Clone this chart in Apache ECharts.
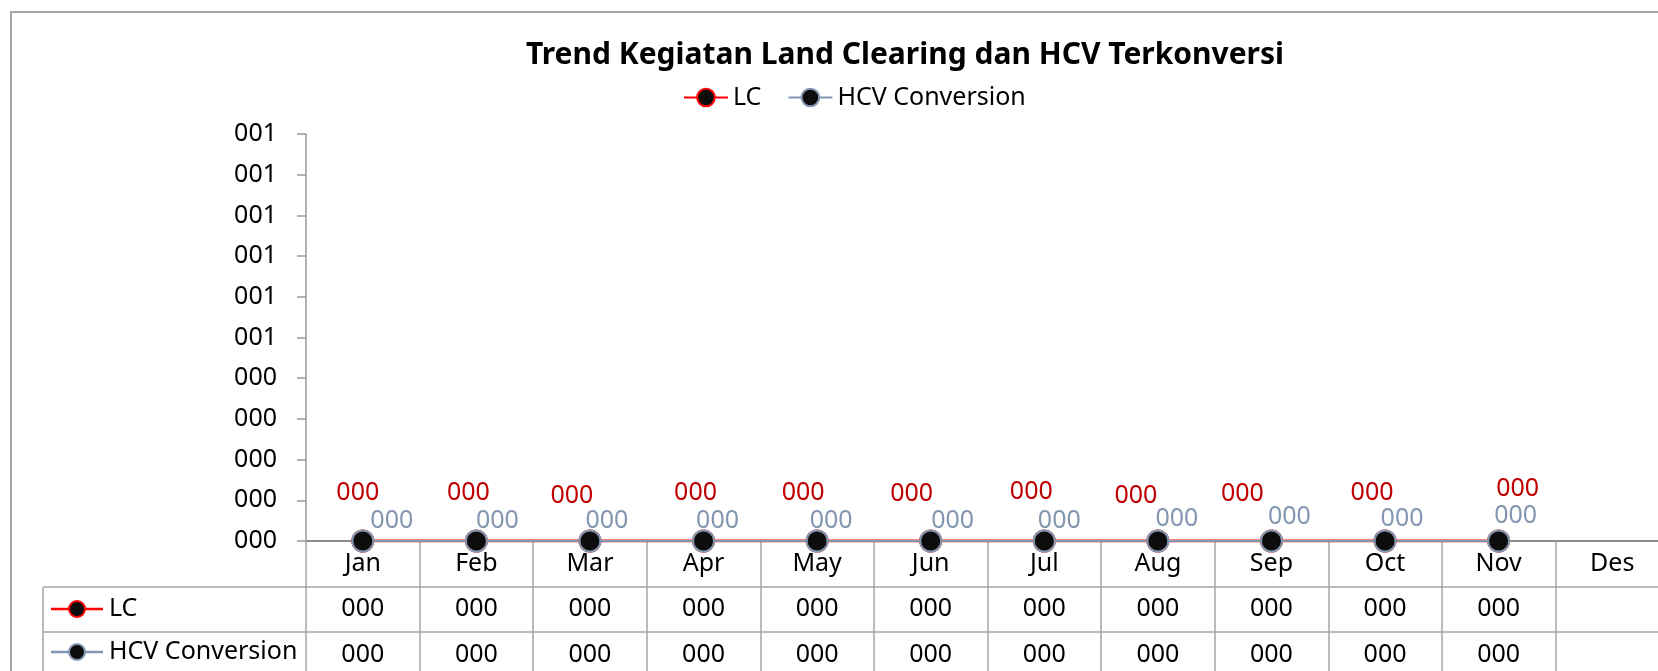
<!DOCTYPE html>
<html>
<head>
<meta charset="utf-8">
<script src="https://cdn.jsdelivr.net/npm/echarts@6/dist/echarts.min.js"></script>
<style>
html,body{margin:0;padding:0;background:#fff;}
#chart{width:1658px;height:671px;}
</style>
</head>
<body>
<div id="chart"></div>
<script>
// ---- data ----
const months = ['Jan','Feb','Mar','Apr','May','Jun','Jul','Aug','Sep','Oct','Nov','Des'];
const lcValues  = [0,0,0,0,0,0,0,0,0,0,0];
const hcvValues = [0,0,0,0,0,0,0,0,0,0,0];
const seriesNames = ['LC','HCV Conversion'];
const yTicks = { min: 0, max: 1, interval: 0.1 };

// ---- label placement (style, not data) ----
const lcLabelOffsets  = [[-5,-48],[-8,-48],[-18,-45],[-8,-48],[-14,-48],[-19,-47],[-13,-49],[-22,-45],[-29,-47],[-13,-48],[19,-52]];
const hcvLabelOffsets = [[29,-20],[21,-20],[17,-20],[14,-20],[14,-20],[22,-20],[15,-20],[19,-22],[18,-24],[17,-22],[17,-25]];

const FONT = '"Noto Sans", "Open Sans", sans-serif';
const FS = 25;
const fmt = v => (v === null || v === undefined) ? '' : String(Math.round(v)).padStart(3, '0');

function buildData(vals, offsets) {
  return vals.map((v, i) => ({ value: v, label: { offset: offsets[i] } }));
}

const chart = echarts.init(document.getElementById('chart'), null, { renderer: 'canvas' });

const GRID = { left: 306, top: 134, width: 1363, height: 407, containLabel: false, outerBoundsMode: 'none' };
const tableLine = { stroke: '#a6a6a6', lineWidth: 1.5 };

chart.setOption({
  backgroundColor: '#ffffff',
  animation: false,
  textStyle: { fontFamily: FONT },
  title: {
    text: 'Trend Kegiatan Land Clearing dan HCV Terkonversi',
    left: 900, top: 35, textAlign: 'center',
    textStyle: { fontFamily: FONT, fontWeight: 'bold', fontSize: 30, color: '#000' }
  },
  legend: {
    left: 678, top: 80,
    itemWidth: 44, itemHeight: 22, itemGap: 26,
    textStyle: { fontFamily: FONT, fontSize: FS, color: '#000' },
    data: seriesNames
  },
  grid: GRID,
  xAxis: {
    type: 'category',
    data: months,
    boundaryGap: true,
    axisLine: { lineStyle: { color: '#8c8c8c', width: 2 } },
    axisTick: { show: true, length: 140, lineStyle: { color: '#a6a6a6', width: 1.5 } },
    axisLabel: {
      interval: 0, margin: 0,
      formatter: (value, idx) => `{m|${value}}\n{v|${fmt(lcValues[idx])}}\n{v|${fmt(hcvValues[idx])}}`,
      rich: {
        m: { fontFamily: FONT, fontSize: FS, color: '#000', lineHeight: 45.5, height: 45.5 },
        v: { fontFamily: FONT, fontSize: FS, color: '#000', lineHeight: 45.5, height: 45.5 }
      }
    },
    splitLine: { show: false }
  },
  yAxis: {
    type: 'value',
    min: yTicks.min, max: yTicks.max, interval: yTicks.interval,
    axisLine: { show: true, lineStyle: { color: '#9a9a9a', width: 1.5 } },
    axisTick: { show: true, length: 9, lineStyle: { color: '#9a9a9a', width: 1.5 } },
    axisLabel: { margin: 29, fontFamily: FONT, fontSize: FS, color: '#000', formatter: v => fmt(v) },
    splitLine: { show: false }
  },
  series: [
    {
      name: seriesNames[0], type: 'line',
      data: buildData(lcValues, lcLabelOffsets),
      symbol: 'circle', symbolSize: 21, showAllSymbol: true,
      lineStyle: { color: '#ff0000', width: 3 },
      itemStyle: { color: '#0d0d0d', borderColor: '#ff0000', borderWidth: 2 },
      label: { show: true, position: 'inside', formatter: p => fmt(p.value), fontFamily: FONT, fontSize: FS, color: '#c00000' },
      z: 2
    },
    {
      name: seriesNames[1], type: 'line',
      data: buildData(hcvValues, hcvLabelOffsets),
      symbol: 'circle', symbolSize: 21, showAllSymbol: true,
      lineStyle: { color: '#8497b0', width: 2.2 },
      itemStyle: { color: '#0d0d0d', borderColor: '#8497b0', borderWidth: 2 },
      label: { show: true, position: 'inside', formatter: p => fmt(p.value), fontFamily: FONT, fontSize: FS, color: '#8497b0' },
      z: 3
    }
  ],
  graphic: [
    { type: 'rect', shape: { x: 11, y: 12, width: 1700, height: 700 }, style: { fill: 'none', stroke: '#a6a6a6', lineWidth: 2 }, silent: true },
    { type: 'line', shape: { x1: 43, y1: 587, x2: 1700, y2: 587 }, style: tableLine, silent: true },
    { type: 'line', shape: { x1: 43, y1: 632, x2: 1700, y2: 632 }, style: tableLine, silent: true },
    { type: 'line', shape: { x1: 43, y1: 587, x2: 43, y2: 700 }, style: tableLine, silent: true },
    // row header keys
    { type: 'line', shape: { x1: 51, y1: 609, x2: 103, y2: 609 }, style: { stroke: '#ff0000', lineWidth: 2.5 } },
    { type: 'circle', shape: { cx: 77, cy: 609, r: 8 }, style: { fill: '#0d0d0d', stroke: '#ff0000', lineWidth: 2 } },
    { type: 'text', x: 109, y: 609, style: { text: seriesNames[0], font: FS + 'px ' + FONT, fill: '#000', verticalAlign: 'middle' } },
    { type: 'line', shape: { x1: 51, y1: 652, x2: 103, y2: 652 }, style: { stroke: '#8497b0', lineWidth: 2.5 } },
    { type: 'circle', shape: { cx: 77, cy: 652, r: 8 }, style: { fill: '#0d0d0d', stroke: '#8497b0', lineWidth: 2 } },
    { type: 'text', x: 109, y: 652, style: { text: seriesNames[1], font: FS + 'px ' + FONT, fill: '#000', verticalAlign: 'middle' } }
  ]
});
</script>
</body>
</html>
